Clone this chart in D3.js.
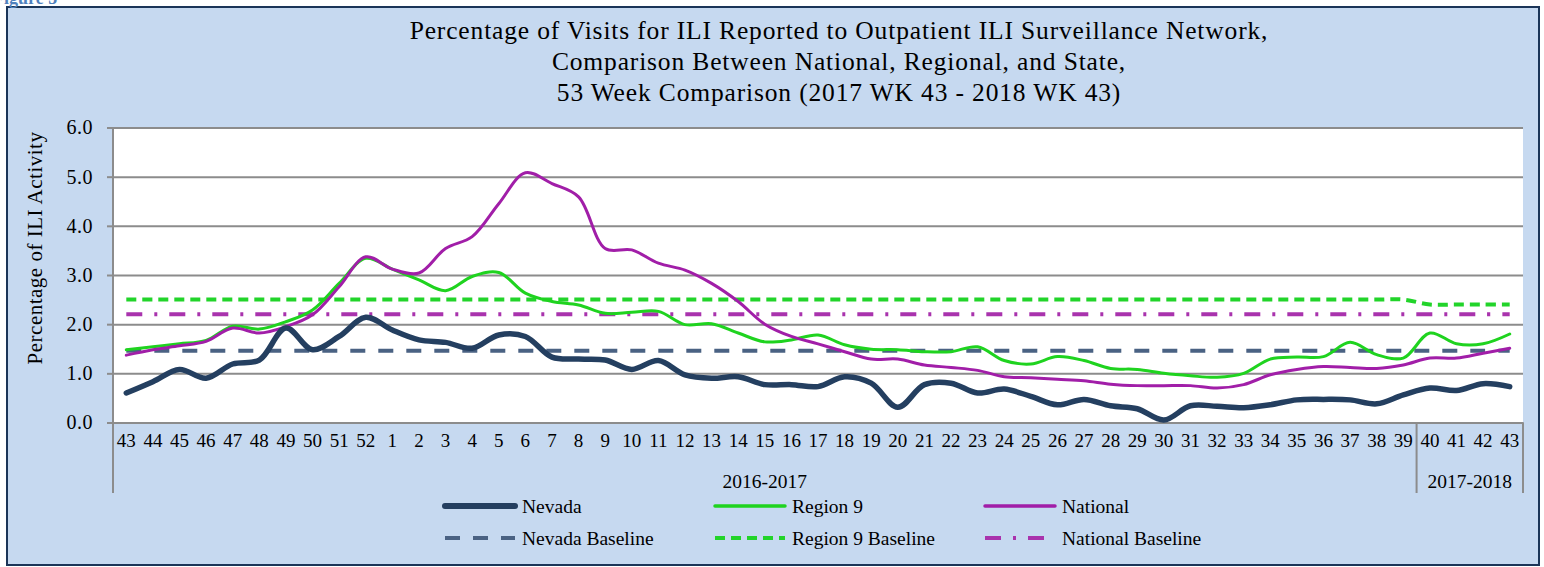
<!DOCTYPE html>
<html>
<head>
<meta charset="utf-8">
<script src="https://cdn.jsdelivr.net/npm/d3@7/dist/d3.min.js"></script>
<style>
    body { margin: 0; background: #ffffff; }
    svg text { font-family: "Liberation Serif", "Times New Roman", serif; fill: #000; }
</style>
</head>
<body>
<script>
"use strict";

// week numbers along the category axis
const weeks = [43, 44, 45, 46, 47, 48, 49, 50, 51, 52,
    1, 2, 3, 4, 5, 6, 7, 8, 9, 10, 11, 12, 13, 14, 15, 16, 17, 18, 19, 20,
    21, 22, 23, 24, 25, 26, 27, 28, 29, 30, 31, 32, 33, 34, 35, 36, 37, 38, 39,
    40, 41, 42, 43]

// season groups under the weeks
const seasonNames = ["2016-2017", "2017-2018"]
const seasonWeekCounts = [49, 4]

// percentage of visits for ILI
const nevada = [0.60, 0.83, 1.08, 0.90, 1.19, 1.27, 1.92, 1.48, 1.75, 2.14,
    1.88, 1.68, 1.63, 1.51, 1.78, 1.75, 1.33, 1.29, 1.27, 1.08,
    1.26, 0.97, 0.90, 0.93, 0.77, 0.77, 0.73, 0.93, 0.80, 0.31,
    0.77, 0.80, 0.60, 0.68, 0.53, 0.36, 0.47, 0.34, 0.28, 0.05,
    0.34, 0.33, 0.30, 0.36, 0.46, 0.47, 0.46, 0.38, 0.56, 0.70,
    0.65, 0.79, 0.73]
const region9 = [1.48, 1.54, 1.60, 1.67, 1.96, 1.90, 2.05, 2.29, 2.83, 3.34,
    3.12, 2.90, 2.68, 2.97, 3.05, 2.63, 2.46, 2.39, 2.22, 2.24,
    2.26, 1.99, 2.01, 1.82, 1.64, 1.68, 1.78, 1.58, 1.49, 1.48,
    1.44, 1.44, 1.54, 1.26, 1.19, 1.34, 1.26, 1.10, 1.08, 1.00,
    0.95, 0.92, 1.00, 1.29, 1.33, 1.34, 1.63, 1.38, 1.31, 1.82,
    1.60, 1.60, 1.80]
const national = [1.37, 1.48, 1.56, 1.65, 1.92, 1.82, 1.95, 2.19, 2.76, 3.37,
    3.12, 3.04, 3.54, 3.78, 4.45, 5.08, 4.86, 4.59, 3.54, 3.51,
    3.24, 3.10, 2.83, 2.46, 2.00, 1.75, 1.60, 1.44, 1.29, 1.29,
    1.17, 1.12, 1.06, 0.93, 0.91, 0.88, 0.85, 0.78, 0.75, 0.75,
    0.75, 0.70, 0.77, 0.97, 1.08, 1.14, 1.12, 1.10, 1.17, 1.31,
    1.31, 1.41, 1.51]

// baselines, one value per season
const nevadaBaseline = [1.46, 1.46]
const region9Baseline = [2.5, 2.4]
const nationalBaseline = [2.2, 2.2]

const yTicks = [0, 1, 2, 3, 4, 5, 6]

const titleLines = ["Percentage of Visits for ILI Reported to Outpatient ILI Surveillance Network,",
    "Comparison Between National, Regional, and State,",
    "53 Week Comparison (2017 WK 43 - 2018 WK 43)"]

;(function(){
    const measurements = {
        width: 1544,
        height: 567,
        left: 113,
        right: 1523,
        top: 127.5,
        bottom: 422.5,
        groupBottom: 493
    }

    const svg = d3.select("body").append("svg")
        .attr("width", measurements.width)
        .attr("height", measurements.height)

    // chart area
    svg.append("rect")
        .attr("x", 7).attr("y", 7)
        .attr("width", 1532).attr("height", 558)
        .attr("fill", "#c6d9f0")
        .attr("stroke", "#1b3558")
        .attr("stroke-width", 2)

    // caption of the page, mostly above the picture
    svg.append("text")
        .attr("x", -7).attr("y", 4)
        .style("fill", "#4f81bd")
        .style("font-weight", "bold")
        .style("font-size", "18px")
        .text("Figure 5")

    svg.append("rect")
        .attr("x", measurements.left).attr("y", measurements.top)
        .attr("width", measurements.right - measurements.left)
        .attr("height", measurements.bottom - measurements.top)
        .attr("fill", "#ffffff")

    // title
    svg.selectAll(".title")
        .data(titleLines)
        .enter().append("text")
        .attr("class", "title")
        .attr("x", 839)
        .attr("y", (d, i) => 39 + i * 31)
        .attr("text-anchor", "middle")
        .style("font-size", "25.5px")
        .style("letter-spacing", "0.85px")
        .text(d => d)

    const idx = weeks.map((d, i) => i)
    const x = d3.scaleBand().domain(idx).range([measurements.left, measurements.right]).padding(0)
    const y = d3.scaleLinear().domain([0, 6]).range([measurements.bottom, measurements.top])
    const cx = i => x(i) + x.bandwidth() / 2

    // gridlines
    svg.append("g")
        .attr("transform", `translate(${measurements.left},0)`)
        .call(d3.axisLeft(y).tickValues(yTicks).tickSize(-(measurements.right - measurements.left)).tickFormat(""))
        .call(g => g.select(".domain").remove())
        .call(g => g.selectAll("line").attr("stroke", "#8c8c8c").attr("stroke-width", 2))

    // y axis
    svg.append("g")
        .attr("transform", `translate(${measurements.left},0)`)
        .call(d3.axisLeft(y).tickValues(yTicks).tickSize(6).tickPadding(14).tickFormat(d3.format(".1f")))
        .call(g => g.select(".domain").remove())
        .call(g => g.selectAll("line").attr("stroke", "#8c8c8c").attr("stroke-width", 2))
        .call(g => g.selectAll("text").style("font-size", "20px").style("letter-spacing", "0.5px"))

    svg.append("text")
        .attr("transform", "rotate(-90)")
        .attr("x", -248)
        .attr("y", 42)
        .attr("text-anchor", "middle")
        .style("font-size", "21px")
        .style("letter-spacing", "0.5px")
        .text("Percentage of ILI Activity")

    // x axis with week labels
    svg.append("g")
        .attr("transform", `translate(0,${measurements.bottom})`)
        .call(d3.axisBottom(x).tickSize(0).tickPadding(11).tickFormat(i => weeks[i]))
        .call(g => g.select(".domain").attr("stroke", "#8c8c8c").attr("stroke-width", 2))
        .call(g => g.selectAll("text").style("font-size", "19px"))

    // season separators and labels
    let seasonStart = [0]
    seasonWeekCounts.forEach((c, i) => seasonStart.push(seasonStart[i] + c))
    const edges = seasonStart.map(s => s < weeks.length ? x(s) : measurements.right)
    svg.selectAll(".sep")
        .data(edges)
        .enter().append("line")
        .attr("x1", d => d).attr("x2", d => d)
        .attr("y1", (d, i) => i == 0 ? measurements.top : measurements.bottom)
        .attr("y2", measurements.groupBottom)
        .attr("stroke", "#8c8c8c")
        .attr("stroke-width", 2)
    svg.selectAll(".season")
        .data(seasonNames)
        .enter().append("text")
        .attr("x", (d, i) => (edges[i] + edges[i + 1]) / 2)
        .attr("y", 488)
        .attr("text-anchor", "middle")
        .style("font-size", "19.5px")
        .text(d => d)

    const seasonOf = i => seasonStart.filter(s => s <= i).length - 1

    const line = d3.line()
        .x((d, i) => cx(i))
        .y(d => y(d))
        .curve(d3.curveCatmullRom.alpha(0.5))

    const series = [
        { name: "Nevada Baseline", values: weeks.map((w, i) => nevadaBaseline[seasonOf(i)]), color: "#4a6283", width: 4, dash: "15,13" },
        { name: "Region 9 Baseline", values: weeks.map((w, i) => region9Baseline[seasonOf(i)]), color: "#22d42a", width: 4, dash: "10,6" },
        { name: "National Baseline", values: weeks.map((w, i) => nationalBaseline[seasonOf(i)]), color: "#a933ad", width: 4, dash: "16,12,3,12" },
        { name: "Region 9", values: region9, color: "#1fd31f", width: 3, dash: null },
        { name: "National", values: national, color: "#a11ea8", width: 3, dash: null },
        { name: "Nevada", values: nevada, color: "#243f60", width: 5.5, dash: null }
    ]

    svg.selectAll(".series")
        .data(series)
        .enter().append("path")
        .attr("class", "series")
        .attr("d", d => line(d.values))
        .attr("fill", "none")
        .attr("stroke", d => d.color)
        .attr("stroke-width", d => d.width)
        .attr("stroke-dasharray", d => d.dash)
        .attr("stroke-linecap", d => d.dash ? "butt" : "round")

    // legend
    const legendOrder = ["Nevada", "Region 9", "National", "Nevada Baseline", "Region 9 Baseline", "National Baseline"]
    const legendX = [445, 715, 985]
    const legendY = [506, 538]
    const legend = svg.selectAll(".legend")
        .data(legendOrder.map(n => series.find(s => s.name == n)))
        .enter().append("g")
        .attr("class", "legend")
        .attr("transform", (d, i) => `translate(${legendX[i % 3]},${legendY[Math.floor(i / 3)]})`)
    legend.append("line")
        .attr("x1", 0).attr("x2", 70)
        .attr("stroke", d => d.color)
        .attr("stroke-width", d => d.dash ? 4 : d.width + 0.5)
        .attr("stroke-dasharray", d => d.dash)
        .attr("stroke-linecap", d => d.dash ? "butt" : "round")
    legend.append("text")
        .attr("x", 77)
        .attr("y", 6.5)
        .style("font-size", "19.5px")
        .text(d => d.name)
})()
</script>
</body>
</html>
